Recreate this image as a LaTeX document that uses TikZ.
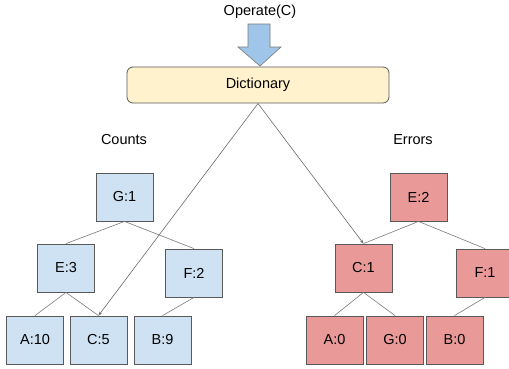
\documentclass[tikz,border=0pt]{standalone}
\usepackage{fontspec}
\setmainfont{Liberation Sans}
\usetikzlibrary{arrows.meta}
\definecolor{bluefill}{HTML}{CFE2F3}
\definecolor{redfill}{HTML}{EA9999}
\definecolor{dictfill}{HTML}{FFF2CC}
\definecolor{arrowfill}{HTML}{9FC5E8}
\definecolor{edgegray}{HTML}{595959}
\tikzset{
  box/.style={draw=edgegray, line width=0.8pt, minimum width=57pt, minimum height=48pt, inner sep=0pt, font=\fontsize{14.5}{17}\selectfont},
  bluebox/.style={box, fill=bluefill},
  redbox/.style={box, fill=redfill},
  link/.style={draw=edgegray!80, line width=0.6pt},
  ptr/.style={draw=edgegray!90, line width=0.6pt, -{Stealth[length=4pt,width=3pt]}},
  lbl/.style={font=\fontsize{14.5}{17}\selectfont, inner sep=0pt},
}
\begin{document}
\begin{tikzpicture}[x=1pt,y=-1pt]
\useasboundingbox (0,0) rectangle (509,368);
% title and block arrow
\node[lbl] (op) at (260,12) {Operate(C)};
\draw[draw=edgegray!80, fill=arrowfill, line width=0.6pt]
  (248,24) -- (270,24) -- (270,47) -- (281,47) -- (260,66) -- (238,47) -- (248,47) -- cycle;
% dictionary
\node[draw=edgegray, line width=0.8pt, fill=dictfill, rounded corners=6pt, minimum width=262pt, minimum height=36pt, inner sep=0pt, font=\fontsize{14.5}{17}\selectfont] (dict) at (258,85) {Dictionary};
\coordinate (ds) at (258,103.5);
% labels
\node[lbl] (counts) at (124,140) {Counts};
\node[lbl] (errors) at (413,140) {Errors};
% left tree
\node[bluebox] (G1) at (124.5,197) {G:1};
\node[bluebox] (E3) at (66,268) {E:3};
\node[bluebox] (F2) at (194,273) {F:2};
\node[bluebox] (A10) at (35,340) {A:10};
\node[bluebox] (C5) at (98.5,340) {C:5};
\node[bluebox] (B9) at (162.5,340) {B:9};
% right tree
\node[redbox] (E2) at (418.5,197) {E:2};
\node[redbox] (C1) at (363.5,268) {C:1};
\node[redbox] (F1) at (485,273) {F:1};
\node[redbox] (A0) at (334.5,340) {A:0};
\node[redbox] (G0) at (395,340) {G:0};
\node[redbox] (B0) at (454.5,340) {B:0};
% tree links
\draw[link] (G1.south) -- (E3.north);
\draw[link] (G1.south) -- (F2.north);
\draw[link] (E3.south) -- (A10.north);
\draw[link] (E3.south) -- (C5.north);
\draw[link] (F2.south) -- (B9.north);
\draw[link] (E2.south) -- (C1.north);
\draw[link] (E2.south) -- (F1.north);
\draw[link] (C1.south) -- (A0.north);
\draw[link] (C1.south) -- (G0.north);
\draw[link] (F1.south) -- (B0.north);
% pointers from dictionary
\draw[ptr] (ds) -- (C5.north);
\draw[ptr] (ds) -- (C1.north);
\end{tikzpicture}
\end{document}
